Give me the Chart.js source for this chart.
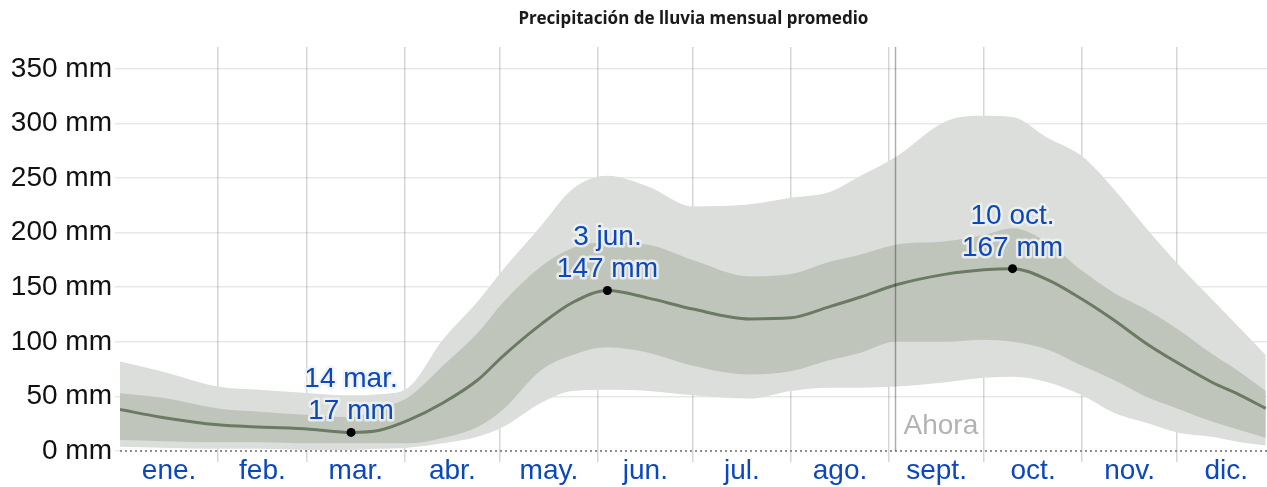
<!DOCTYPE html>
<html><head><meta charset="utf-8">
<script src="https://cdn.jsdelivr.net/npm/chart.js@4/dist/chart.umd.min.js"></script>
<style>html,body{margin:0;padding:0;background:#fff;overflow:hidden}canvas{display:block}</style>
</head><body>
<canvas id="c" width="1267" height="487"></canvas>
<script>
// ---- data (day of year, mm) ----
const days   = [0,13,31,44,60,73,82,91,102,113,121,133,143,154,167,181,199,212,224,234,245,261,273,282,293,304,314,324,334,345,354,362];
const median = [38,31,24,22,20,17,19,28,44,65,87,116,136,147,140,130,121,122,132,141,152,162,166,167,157,139,120,99,81,63,51,39];
const p75    = [53,49,39,36,33,31,39,49,78,108,136,169,186,191,189,175,160,162,173,180,189,192,198,204,191,165,145,130,112,89,72,55];
const p25    = [10,9,8,8,7,7,7,7,12,22,38,74,88,95,90,78,70,73,83,90,100,100,102,100,93,78,65,50,39,27,19,12];
const p90    = [82,73,59,56,53,51,52,58,102,137,166,206,240,252,242,224,226,232,237,252,269,302,307,306,287,270,240,205,172,139,112,88];
const p10    = [4,3,2,2,1,1,2,3,7,13,22,44,55,56,55,51,48,55,58,58,59,63,67,68,63,51,35,26,17,13,8,5];

const months      = ['ene.','feb.','mar.','abr.','may.','jun.','jul.','ago.','sept.','oct.','nov.','dic.'];
const monthStarts = [0,31,59,90,120,151,181,212,243,273,304,334,365];
const yTicks      = [0,50,100,150,200,250,300,350];

const annotDays   = [73,154,282];
const annotDates  = ['14 mar.','3 jun.','10 oct.'];
const annotValues = [17,147,167];

const nowDay   = 245;
const nowLabel = 'Ahora';
const titleText = 'Precipitación de lluvia mensual promedio';

const X_MAX = 362.4, Y_MAX = 370;

const mids = months.map((m,i)=> (monthStarts[i]+monthStarts[i+1])/2);
const xTickVals = [];
monthStarts.forEach((s,i)=>{ if (s>0 && s<X_MAX) xTickVals.push(s); if (i<months.length) xTickVals.push(mids[i]); });
xTickVals.sort((a,b)=>a-b);
const isBoundary = v => monthStarts.includes(v);

const pts = arr => days.map((d,i)=>({x:d,y:arr[i]}));

const BLUE = '#0b48bf';
const FONT = '"Liberation Sans", Arial, sans-serif';

const overlay = {
  id:'overlay',
  afterDraw(chart){
    const {ctx, chartArea:a, scales:{x,y}} = chart;
    ctx.save();
    // zero dotted line
    const y0 = y.getPixelForValue(0);
    ctx.strokeStyle = '#6a6a6a'; ctx.lineWidth = 1.5; ctx.setLineDash([2,3]);
    ctx.beginPath(); ctx.moveTo(a.left, y0); ctx.lineTo(a.right, y0); ctx.stroke();
    ctx.setLineDash([]);
    // now line
    const xn = Math.round(x.getPixelForValue(nowDay)) + 0.5;
    ctx.strokeStyle = 'rgba(0,0,0,0.32)'; ctx.lineWidth = 1.5;
    ctx.beginPath(); ctx.moveTo(xn, a.top); ctx.lineTo(xn, y0); ctx.stroke();
    ctx.font = '28px ' + FONT; ctx.fillStyle = '#b3b3b3';
    ctx.textAlign = 'left'; ctx.textBaseline = 'alphabetic';
    ctx.fillText(nowLabel, xn + 8, y0 - 17);
    // annotations
    ctx.font = '28px ' + FONT; ctx.textAlign = 'center';
    ctx.lineJoin = 'round'; ctx.lineWidth = 5;
    annotDays.forEach((d,i)=>{
      const px = x.getPixelForValue(d), py = y.getPixelForValue(annotValues[i]);
      const lines = [annotDates[i], annotValues[i] + ' mm'];
      const bases = [py - 45, py - 13];
      lines.forEach((t,j)=>{
        ctx.strokeStyle = 'rgba(240,242,240,0.85)';
        ctx.strokeText(t, px, bases[j]);
        ctx.fillStyle = BLUE;
        ctx.fillText(t, px, bases[j]);
      });
    });
    ctx.restore();
  }
};

new Chart(document.getElementById('c'), {
  type:'line',
  data:{ datasets:[
    { data: annotDays.map((d,i)=>({x:d,y:annotValues[i]})), showLine:false, pointRadius:4.5, pointBackgroundColor:'#000', pointBorderWidth:0 },
    { data: pts(median), borderColor:'#6b7a63', borderWidth:3, pointRadius:0, fill:false, cubicInterpolationMode:'monotone' },
    { data: pts(p75), borderWidth:0, pointRadius:0, fill:3, backgroundColor:'#c0c5bc', cubicInterpolationMode:'monotone' },
    { data: pts(p25), borderWidth:0, pointRadius:0, fill:false, cubicInterpolationMode:'monotone' },
    { data: pts(p90), borderWidth:0, pointRadius:0, fill:5, backgroundColor:'#dcdedb', cubicInterpolationMode:'monotone' },
    { data: pts(p10), borderWidth:0, pointRadius:0, fill:false, cubicInterpolationMode:'monotone' }
  ]},
  options:{
    responsive:false, animation:false, events:[],
    layout:{ padding:0, autoPadding:false },
    plugins:{
      legend:{display:false}, tooltip:{enabled:false},
      title:{ display:true, text:titleText, fullSize:false, color:'#1a1a1a',
        font:{family:'"Noto Sans", sans-serif', size:17, weight:'bold'}, padding:{top:9,bottom:17.6} }
    },
    scales:{
      x:{ type:'linear', min:0, max:X_MAX, z:1,
        afterBuildTicks: s => { s.ticks = xTickVals.map(v=>({value:v})); },
        afterFit: s => { s.height = 36; },
        border:{display:false},
        grid:{ color: c => (c.tick && isBoundary(c.tick.value)) ? 'rgba(0,0,0,0.16)' : 'rgba(0,0,0,0)',
               tickColor: c => (c.tick && isBoundary(c.tick.value)) ? 'rgba(0,0,0,0.16)' : 'rgba(0,0,0,0)',
               lineWidth:1.5, tickLength:11, drawTicks:true },
        ticks:{ autoSkip:false, maxRotation:0, padding:-8, color:BLUE, font:{family:FONT, size:28},
          callback: v => { const i = mids.indexOf(v); return i>=0 ? months[i] : ''; } }
      },
      y:{ type:'linear', min:0, max:Y_MAX, z:1,
        afterBuildTicks: s => { s.ticks = yTicks.map(v=>({value:v})); },
        afterFit: s => { s.width = 120; },
        border:{display:false},
        grid:{ color: c => (c.tick && c.tick.value===0) ? 'rgba(0,0,0,0)' : 'rgba(0,0,0,0.09)',
               tickColor: 'rgba(0,0,0,0.09)', lineWidth:1.5, tickLength:5 },
        ticks:{ padding:3, color:'#111', font:{family:FONT, size:28}, callback: v => v + ' mm' }
      }
    }
  },
  plugins:[overlay]
});
</script>
</body></html>
